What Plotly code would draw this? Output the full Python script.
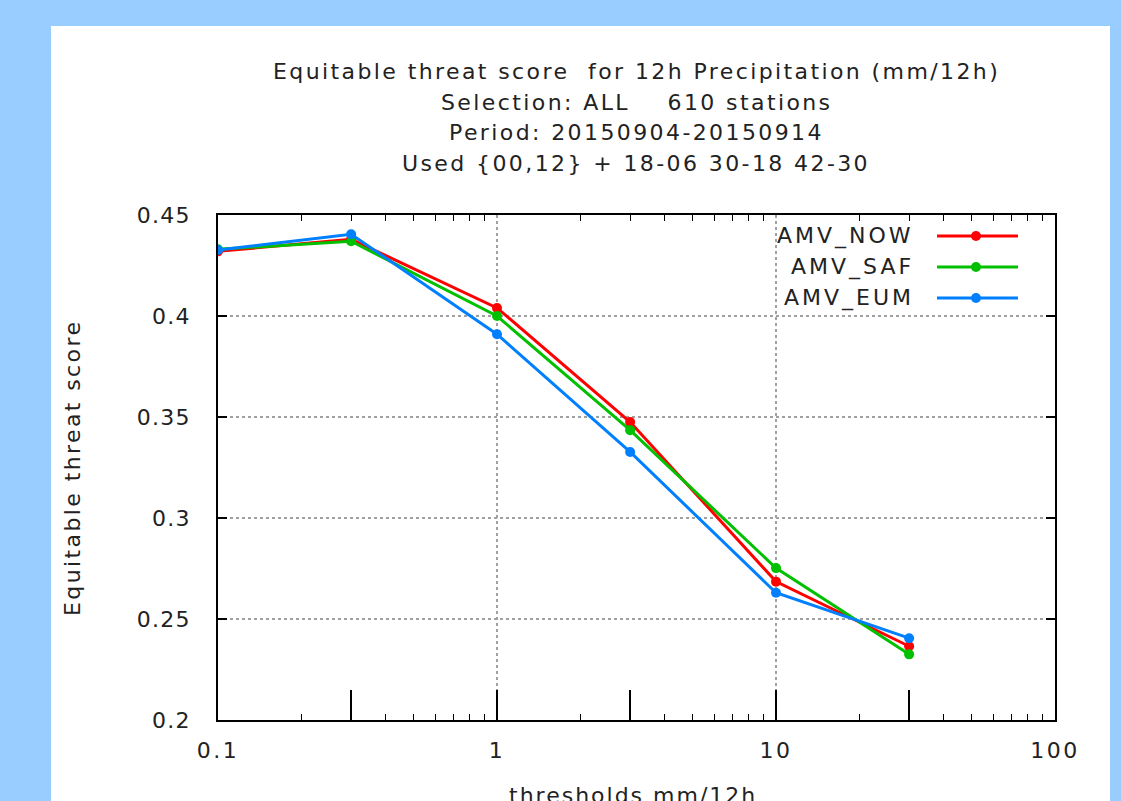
import plotly.graph_objects as go

thresholds = [0.1, 0.3, 1, 3, 10, 30]
amv_now = [0.432, 0.438, 0.404, 0.3475, 0.2685, 0.2365]
amv_saf = [0.433, 0.437, 0.400, 0.3435, 0.2752, 0.2325]
amv_eum = [0.4327, 0.4405, 0.391, 0.3327, 0.2630, 0.2405]
series_names = ["AMV_NOW", "AMV_SAF", "AMV_EUM"]
series_colors = ["#ff0000", "#00c000", "#0080ff"]

title_lines = [
    "Equitable threat score  for 12h Precipitation (mm/12h)",
    "Selection: ALL    610 stations",
    "Period: 20150904-20150914",
    "Used {00,12} + 18-06 30-18 42-30",
]
x_label = "thresholds mm/12h"
y_label = "Equitable threat score"
x_major = [0.1, 0.3, 1, 3, 10, 30, 100]
x_major_text = ["0.1", "", "1", "", "10", "", "100"]
x_grid = [1, 10]
x_minor = [m * d for d in (0.1, 1, 10) for m in range(2, 10) if m != 3]
x_minor_all = [m * d for d in (0.1, 1, 10) for m in range(2, 10)]
y_ticks = [0.2, 0.25, 0.3, 0.35, 0.4, 0.45]
y_ticktext = ["0.2", "0.25", "0.3", "0.35", "0.4", "0.45"]

FONT = "DejaVu Sans"
TXT = "#222222"
W, H = 1121, 801
L, R, T, B = 218, 66, 215, 81
pw, ph = W - L - R, H - T - B


def px(xp):
    return (xp - L) / pw


def py(yp):
    return (H - B - yp) / ph


def spaced(s, ls):
    if s == "":
        return s
    return '<span style="letter-spacing:%.1fpx">%s</span>' % (ls, s)


fig = go.Figure()
for name, vals, col in zip(series_names, [amv_now, amv_saf, amv_eum], series_colors):
    fig.add_trace(go.Scatter(
        x=thresholds, y=vals, mode="lines+markers", name=name,
        line=dict(color=col, width=3),
        marker=dict(color=col, size=10, symbol="circle"),
        showlegend=False,
    ))

# invisible traces to activate overlay axes
fig.add_trace(go.Scatter(x=[0.1], y=[0.2], xaxis="x2", mode="markers",
                         marker=dict(opacity=0), showlegend=False, hoverinfo="skip"))
fig.add_trace(go.Scatter(x=[0.1], y=[0.2], xaxis="x3", mode="markers",
                         marker=dict(opacity=0), showlegend=False, hoverinfo="skip"))

shapes = [
    dict(type="rect", xref="paper", yref="paper",
         x0=px(51), x1=px(1110), y0=py(830), y1=py(26),
         fillcolor="white", line=dict(width=0), layer="below"),
]
annotations = []
title_y = [72, 102, 132, 164]
for txt, yy in zip(title_lines, title_y):
    annotations.append(dict(text=spaced(txt, 2.4), xref="paper", yref="paper", x=px(636), y=py(yy),
                            xanchor="center", yanchor="middle", showarrow=False,
                            font=dict(family=FONT, size=22, color=TXT)))
annotations.append(dict(text=spaced(y_label, 2.4), xref="paper", yref="paper",
                        x=px(72), y=py(468), textangle=-90, showarrow=False,
                        xanchor="center", yanchor="middle",
                        font=dict(family=FONT, size=22, color=TXT)))
annotations.append(dict(text=spaced(x_label, 2.0), xref="paper", yref="paper",
                        x=px(633), y=py(795), showarrow=False,
                        xanchor="center", yanchor="middle",
                        font=dict(family=FONT, size=22, color=TXT)))

# custom legend (text left of sample, as gnuplot draws it)
leg_rows = [236, 267, 298]
for name, col, yy in zip(series_names, series_colors, leg_rows):
    annotations.append(dict(text=spaced(name, 3.0), xref="paper", yref="paper", x=px(916), y=py(yy),
                            xanchor="right", yanchor="middle", showarrow=False,
                            font=dict(family=FONT, size=22, color=TXT)))
    shapes.append(dict(type="line", xref="paper", yref="paper",
                       x0=px(937), x1=px(1018), y0=py(yy), y1=py(yy),
                       line=dict(color=col, width=3)))
    shapes.append(dict(type="circle", xref="paper", yref="paper",
                       xsizemode="pixel", ysizemode="pixel",
                       xanchor=px(976), yanchor=py(yy), x0=-5, x1=5, y0=-5, y1=5,
                       fillcolor=col, line=dict(color=col, width=0)))

fig.update_layout(
    width=W, height=H,
    margin=dict(l=L, r=R, t=T, b=B, pad=0),
    paper_bgcolor="#99ccff",
    plot_bgcolor="white",
    shapes=shapes,
    annotations=annotations,
    font=dict(family=FONT, size=22, color=TXT),
    xaxis=dict(
        type="log", range=[-1, 2],
        tickvals=x_major, ticktext=[spaced(t, 2.5) for t in x_major_text],
        ticks="inside", ticklen=30, tickwidth=2, tickcolor="black",
        showgrid=False, zeroline=False,
        showline=True, linecolor="black", linewidth=2,
        ticklabelstandoff=10,
        tickfont=dict(family=FONT, size=22, color=TXT),
        minor=dict(tickvals=x_minor, ticks="inside", ticklen=6, tickwidth=1,
                   tickcolor="black", showgrid=False),
    ),
    xaxis2=dict(
        type="log", range=[-1, 2], overlaying="x", side="top",
        tickvals=x_minor_all, ticks="inside", ticklen=6, tickwidth=1, tickcolor="black",
        showticklabels=False, showgrid=False, zeroline=False,
        showline=True, linecolor="black", linewidth=2,
    ),
    xaxis3=dict(
        type="log", range=[-1, 2], overlaying="x", side="bottom",
        tickvals=x_grid, ticks="", showticklabels=False,
        showgrid=True, gridcolor="#a0a0a0", griddash="dot", gridwidth=1.5,
        zeroline=False, showline=False,
    ),
    yaxis=dict(
        range=[0.2, 0.45], tickvals=y_ticks,
        ticktext=[spaced(t, 1.2) for t in y_ticktext],
        ticks="inside", ticklen=9, tickwidth=2, tickcolor="black",
        mirror="ticks", showline=True, linecolor="black", linewidth=2,
        showgrid=True, gridcolor="#a0a0a0", griddash="dot", gridwidth=1.5,
        zeroline=False, ticklabelstandoff=21,
        tickfont=dict(family=FONT, size=22, color=TXT),
    ),
)

fig.write_html("out.html")
